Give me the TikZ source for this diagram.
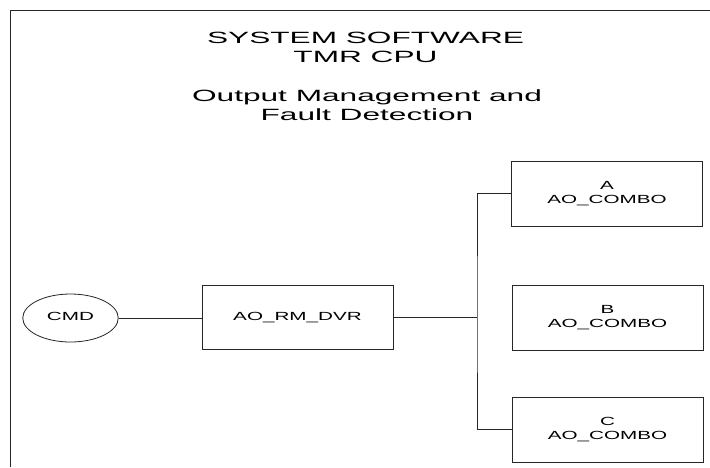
\documentclass[tikz,border=0pt]{standalone}
\usepackage{fontspec}
\setmainfont{Liberation Sans}
\usepackage{graphicx}
\usetikzlibrary{shapes.geometric}
\newcommand\titletext[1]{{\fontsize{16.3}{19}\selectfont\scalebox{1.94}[1]{\begin{tabular}[t]{@{}c@{}}#1\end{tabular}}}}
\newcommand\boxtext[1]{{\fontsize{11.8}{14.5}\selectfont\scalebox{1.75}[1]{\begin{tabular}{@{}c@{}}#1\end{tabular}}}}
\tikzset{
  frame/.style={draw=black!85, line width=0.9pt},
  titlenode/.style={anchor=base, inner sep=0pt},
  boxnode/.style={draw=black!85, rectangle, minimum width=191pt, minimum height=65pt, inner sep=0pt},
  ovalnode/.style={draw=black!85, ellipse, minimum width=95.5pt, minimum height=48pt, inner sep=0pt},
  wire/.style={draw=black!85}
}
\begin{document}
\begin{tikzpicture}[x=1pt,y=-1pt,line width=0.8pt]
\useasboundingbox (0,0) rectangle (710,467);
\draw[frame] (10.5,467) -- (10.5,10.5) -- (710,10.5);
\node[titlenode] (t1) at (365.5,43.5) {\titletext{SYSTEM SOFTWARE\\TMR CPU}};
\node[titlenode] (t2) at (367,101.5) {\titletext{Output Management and\\Fault Detection}};
\node[ovalnode] (cmd) at (70.5,318) {\boxtext{CMD}};
\node[boxnode, minimum height=64pt] (dvr) at (297.5,317.5) {\boxtext{AO\_RM\_DVR}};
\node[boxnode] (a) at (607,193.5) {\boxtext{A\\AO\_COMBO}};
\node[boxnode] (b) at (607.5,317.5) {\boxtext{B\\AO\_COMBO}};
\node[boxnode] (c) at (607.5,429.5) {\boxtext{C\\AO\_COMBO}};
\coordinate (trunk) at (477,317.5);
\draw[wire] (cmd.east) -- (cmd.east -| dvr.west);
\draw[wire] (dvr.east) -- (trunk);
\draw[wire] (a.west) -| (trunk) |- (c.west);
\end{tikzpicture}
\end{document}
